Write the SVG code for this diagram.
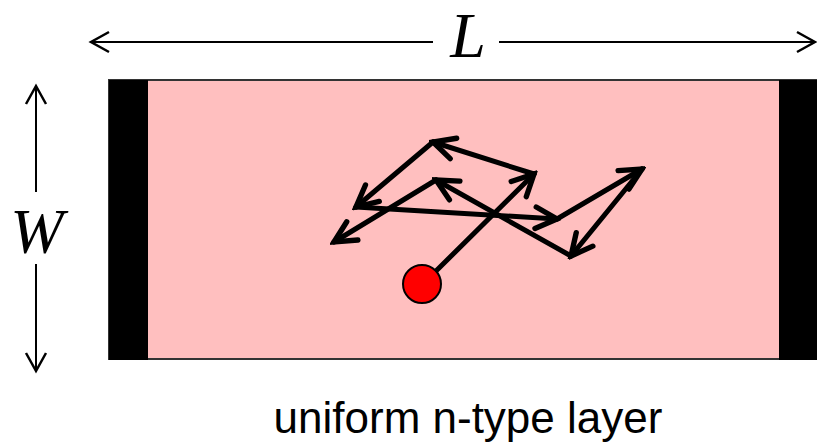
<svg xmlns="http://www.w3.org/2000/svg" width="817" height="446" viewBox="0 0 817 446">
<defs>
<marker id="thin" markerUnits="userSpaceOnUse" markerWidth="24" markerHeight="24" viewBox="-20 -12 24 24" refX="0" refY="0" orient="auto">
<path d="M-18,-10 L0,0 L-18,10" fill="none" stroke="#000" stroke-width="2.5"/>
</marker>
<marker id="thick" markerUnits="userSpaceOnUse" markerWidth="30" markerHeight="30" viewBox="-24 -14 28 28" refX="0" refY="0" orient="auto">
<path d="M-20,-10 L0,0 L-20,10" fill="none" stroke="#000" stroke-width="5" stroke-linecap="round" stroke-linejoin="miter"/>
</marker>
<style>
.dim{stroke:#000;stroke-width:2;fill:none}
.walk{stroke:#000;stroke-width:5;fill:none;stroke-linecap:round;marker-end:url(#thick)}
.sym{font-family:"Liberation Serif","Times New Roman",serif;font-style:italic;font-size:64px;fill:#000}
.lbl{font-family:"Liberation Sans",Arial,sans-serif;font-size:44px;fill:#000}
</style>
</defs>
<g id="layer">
<rect x="109" y="80" width="710" height="279" fill="#ffbfbf" stroke="#333" stroke-width="2"/>
<rect x="109" y="80" width="39" height="280" fill="#000"/>
<rect x="779" y="80" width="40" height="280" fill="#000"/>
</g>
<g id="dimensions">
<line class="dim" x1="433" y1="42" x2="91" y2="42" marker-end="url(#thin)"/>
<line class="dim" x1="499" y1="42" x2="815" y2="42" marker-end="url(#thin)"/>
<text class="sym" x="468" y="57" text-anchor="middle">L</text>
<line class="dim" x1="36" y1="192" x2="36" y2="86" marker-end="url(#thin)"/>
<line class="dim" x1="36" y1="264" x2="36" y2="371" marker-end="url(#thin)"/>
<text class="sym" x="37" y="253" text-anchor="middle">W</text>
</g>
<g id="connectors">
<line class="walk" x1="436" y1="271" x2="534" y2="174"/>
<line class="walk" x1="534" y1="174" x2="433" y2="142"/>
<line class="walk" x1="433" y1="142" x2="356" y2="207"/>
<line class="walk" x1="356" y1="207" x2="557" y2="219"/>
<line class="walk" x1="557" y1="219" x2="642" y2="169"/>
<line class="walk" x1="642" y1="169" x2="571" y2="256"/>
<line class="walk" x1="571" y1="256" x2="436" y2="180"/>
<line class="walk" x1="436" y1="180" x2="334" y2="242"/>
</g>
<g id="particle">
<circle cx="422" cy="284" r="19" fill="#ff0000" stroke="#000" stroke-width="2"/>
</g>
<text class="lbl" x="468" y="433" text-anchor="middle">uniform n-type layer</text>
</svg>
